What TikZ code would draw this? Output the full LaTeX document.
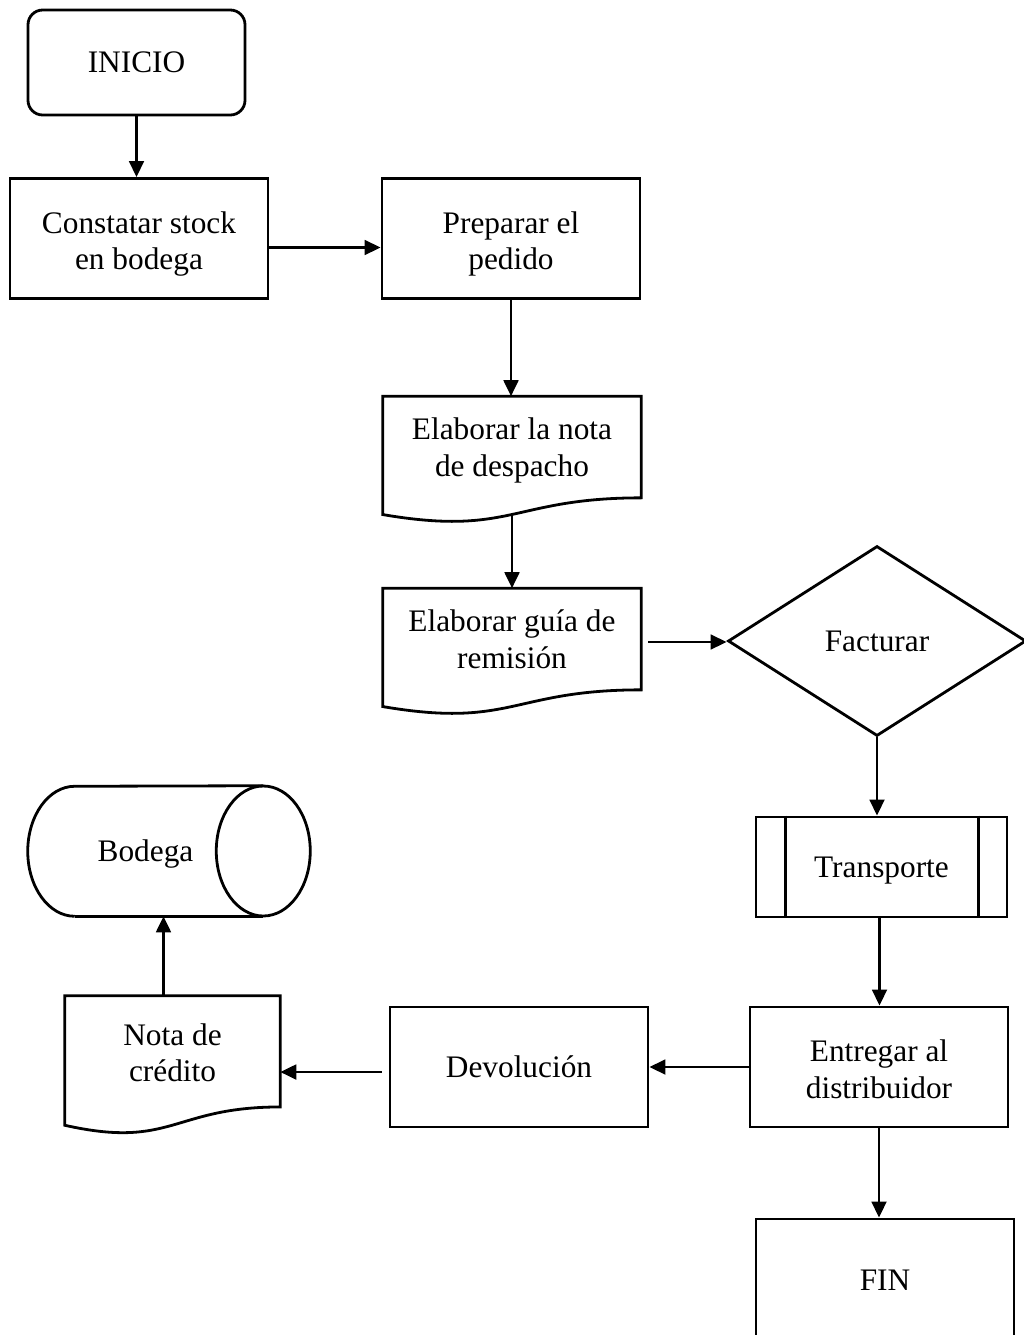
\documentclass[tikz,border=0pt]{standalone}
\usepackage{fontspec}
\setmainfont{Liberation Serif}
\usetikzlibrary{shapes.geometric,arrows.meta,calc}

% document symbol: straight top and sides, wavy bottom edge.
% #2 = full symbol height divided by the height of the text area (the node)
\newcommand\docoutline[2]{%
  \draw[shapeline] (#1.north west) -- (#1.north east)
    -- ($(#1.north east)!#2*0.802!(#1.south east)$)
    .. controls ($(#1.north)!#2*0.802!(#1.south)$) and ($(#1.north)!#2*1.108!(#1.south)$)
    .. ($(#1.north west)!#2*0.934!(#1.south west)$) -- cycle;
  \coordinate (#1-out) at ($(#1.north)!#2*0.933!(#1.south)$);}

\begin{document}
\begin{tikzpicture}[x=0.75pt,y=-0.75pt,
  shapeline/.style={draw=black,line width=2.1pt},
  txt/.style={align=center,inner sep=0pt,font=\fontsize{23.5}{27.5}\selectfont},
  oneline/.style={text height=15.5pt,text depth=0pt},
  twoline/.style={text height=51.8pt,text depth=5pt},
  sz/.style 2 args={minimum width=#1*0.75pt,minimum height=#2*0.75pt},
  stepbox/.style 2 args={txt,shapeline,rectangle,sz={#1}{#2}},
  docbox/.style 2 args={txt,twoline,rectangle,sz={#1}{#2}},
  arr/.style={line width=2.1pt,-{Triangle[length=12pt,width=11pt]}}]

\useasboundingbox (0,0) rectangle (1024,1335);
\fill[white] (0,0) rectangle (1024,1335);

% process steps
\node[stepbox={217}{105},oneline,rounded corners=11pt] (inicio) at (136.5,62.5) {INICIO};
\node[stepbox={258}{120},twoline] (constatar) at (139,238.5) {Constatar stock\\en bodega};
\node[stepbox={258}{120},twoline] (preparar) at (511,238.5) {Preparar el\\pedido};

\node[docbox={258}{97}] (despacho) at (512,445) {Elaborar la nota\\de despacho};
\docoutline{despacho}{1.299}
\node[docbox={258}{97}] (guia) at (512,637) {Elaborar guía de\\remisión};
\docoutline{guia}{1.299}

\node[txt,oneline,shapeline,diamond,aspect=1.57,sz={298}{190}] (facturar) at (877,641) {Facturar};

\node[stepbox={251}{100},oneline] (transporte) at (881.5,867) {Transporte};
\draw[shapeline] ([xshift=23.25pt]transporte.north west) -- ([xshift=23.25pt]transporte.south west);
\draw[shapeline] ([xshift=-22.5pt]transporte.north east) -- ([xshift=-22.5pt]transporte.south east);

\node[stepbox={258}{120},twoline] (entregar) at (879,1067) {Entregar al\\distribuidor};
\node[stepbox={258}{120},oneline] (devolucion) at (519,1067) {Devolución};
\node[stepbox={258}{122},oneline] (fin) at (885,1280) {FIN};

\node[docbox={215}{109}] (nota) at (172.5,1050.5) {Nota de\\crédito};
\docoutline{nota}{1.266}

% stored data: horizontal cylinder
\node[txt,oneline,rectangle,sz={235}{130}] (bodega) at (145.5,851) {Bodega};
\draw[shapeline] ([xshift=35.25pt]bodega.south west)
  arc[start angle=-90,end angle=-270,x radius=35.25pt,y radius=48.75pt]
  -- (bodega.north east);
\draw[shapeline] ([xshift=35.25pt]bodega.south west) -- (bodega.south east);
\draw[shapeline] (bodega.east) ellipse[x radius=35.25pt,y radius=48.75pt];

% connectors
\draw[arr] (inicio.south) -- (inicio.south |- constatar.north);
\coordinate (c-out) at ($(constatar.east)+(0,9)$);
\draw[arr] (c-out) -- (c-out -| preparar.west);
\draw[arr] (preparar.south) -- (preparar.south |- despacho.north);
\draw[arr] (despacho-out) -- (despacho-out |- guia.north);
\coordinate (g-out) at ($(guia.east)+(7,5)$);
\draw[arr] (g-out) -- (g-out -| facturar.west);
\draw[arr] (facturar.south) -- (facturar.south |- transporte.north);
\draw[arr] ([xshift=-1.5pt]transporte.south) -- ([xshift=-1.5pt]transporte.south |- entregar.north);
\draw[arr] (entregar.west) -- (entregar.west -| devolucion.east);
\coordinate (d-out) at ($(devolucion.west)+(-7,5)$);
\draw[arr] (d-out) -- (d-out -| nota.east);
\coordinate (n-out) at ($(nota.north)+(-9,0)$);
\draw[arr] (n-out) -- (n-out |- bodega.south);
\draw[arr] (entregar.south) -- (entregar.south |- fin.north);
\end{tikzpicture}
\end{document}
